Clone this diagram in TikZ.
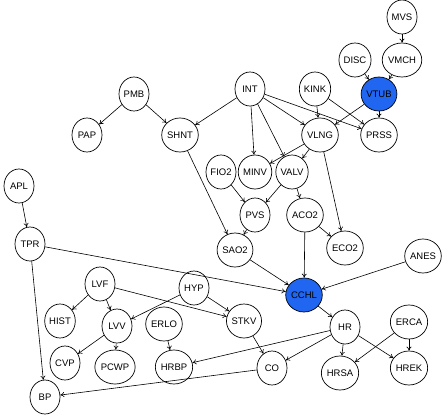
\documentclass[tikz,border=0pt]{standalone}
\usepackage{fontspec}
\setmainfont{Liberation Sans}
\usepackage{tikz}
\usetikzlibrary{arrows.meta, shapes.geometric}

\definecolor{evid}{RGB}{33,102,240}

\begin{document}
\begin{tikzpicture}[
  x=1pt, y=-1pt,
  var/.style={draw, ellipse, minimum width=30pt, minimum height=34pt, inner sep=0pt,
              line width=0.7pt, font=\fontsize{9.5}{10}\selectfont},
  obs/.style={var, fill=evid},
  arrow/.style={-{To[length=4pt, width=5pt]}, line width=0.6pt}
]
  \useasboundingbox (0,0) rectangle (443,415);

  %--- Ventilation ---
  \node[var] (mvs)  at (402, 17)  {MVS};
  \node[var] (vmch) at (402, 60)  {VMCH};
  \node[var] (disc) at (355, 60)  {DISC};
  \node[obs] (vtub) at (379, 94)  {VTUB};
  \node[var] (kink) at (315, 89)  {KINK};
  \node[var] (int)  at (250, 89)  {INT};
  \node[var] (pmb)  at (134, 94)  {PMB};
  \node[var] (pap)  at (87, 135)  {PAP};
  \node[var] (shnt) at (180, 135) {SHNT};
  \node[var] (vlng) at (320, 135) {VLNG};
  \node[var] (prss) at (379, 135) {PRSS};
  \node[var] (fio2) at (221, 172) {FIO2};
  \node[var] (minv) at (255, 172) {MINV};
  \node[var] (valv) at (292, 172) {VALV};
  \node[var] (pvs)  at (255, 215) {PVS};
  \node[var] (aco2) at (305, 215) {ACO2};
  \node[var] (sao2) at (235, 250) {SAO2};
  \node[var] (eco2) at (345, 248) {ECO2};

  %--- Circulation ---
  \node[var] (apl)  at (19, 186)  {APL};
  \node[var] (tpr)  at (30, 244)  {TPR};
  \node[var] (anes) at (423, 256) {ANES};
  \node[obs] (cchl) at (304, 295) {CCHL};
  \node[var] (lvf)  at (100, 284) {LVF};
  \node[var] (hyp)  at (194, 288) {HYP};
  \node[var] (hist) at (60, 321)  {HIST};
  \node[var] (lvv)  at (117, 326) {LVV};
  \node[var] (erlo) at (164, 324) {ERLO};
  \node[var] (stkv) at (244, 321) {STKV};
  \node[var] (hr)   at (345, 327) {HR};
  \node[var] (erca) at (409, 322) {ERCA};
  \node[var] (cvp)  at (65, 363)  {CVP};
  \node[var] (pcwp) at (115, 367) {PCWP};
  \node[var] (hrbp) at (174, 367) {HRBP};
  \node[var] (co)   at (272, 368) {CO};
  \node[var] (hrsa) at (340, 373) {HRSA};
  \node[var] (hrek) at (409, 368) {HREK};
  \node[var] (bp)   at (45, 397)  {BP};

  % Edges
  \draw[arrow] (mvs) -- (vmch);
  \draw[arrow] (disc) -- (vtub);
  \draw[arrow] (vmch) -- (vtub);
  \draw[arrow] (vtub) -- (prss);
  \draw[arrow] (vtub) -- (vlng);
  \draw[arrow] (kink) -- (vlng);
  \draw[arrow] (kink) -- (prss);
  \draw[arrow] (int) -- (shnt);
  \draw[arrow] (int) -- (minv);
  \draw[arrow] (int) -- (valv);
  \draw[arrow] (int) -- (vlng);
  \draw[arrow] (int) -- (prss);
  \draw[arrow] (pmb) -- (pap);
  \draw[arrow] (pmb) -- (shnt);
  \draw[arrow] (vlng) -- (minv);
  \draw[arrow] (vlng) -- (valv);
  \draw[arrow] (vlng) -- (eco2);
  \draw[arrow] (valv) -- (pvs);
  \draw[arrow] (valv) -- (aco2);
  \draw[arrow] (fio2) -- (pvs);
  \draw[arrow] (pvs) -- (sao2);
  \draw[arrow] (shnt) -- (sao2);
  \draw[arrow] (sao2) -- (cchl);
  \draw[arrow] (aco2) -- (cchl);
  \draw[arrow] (aco2) -- (eco2);
  \draw[arrow] (anes) -- (cchl);
  \draw[arrow] (tpr) -- (cchl);
  \draw[arrow] (apl) -- (tpr);
  \draw[arrow] (tpr) -- (bp);
  \draw[arrow] (cchl) -- (hr);
  \draw[arrow] (lvf) -- (hist);
  \draw[arrow] (lvf) -- (lvv);
  \draw[arrow] (lvf) -- (stkv);
  \draw[arrow] (hyp) -- (lvv);
  \draw[arrow] (hyp) -- (stkv);
  \draw[arrow] (lvv) -- (cvp);
  \draw[arrow] (lvv) -- (pcwp);
  \draw[arrow] (erlo) -- (hrbp);
  \draw[arrow] (stkv) -- (co);
  \draw[arrow] (hr) -- (co);
  \draw[arrow] (hr) -- (hrbp);
  \draw[arrow] (hr) -- (hrsa);
  \draw[arrow] (hr) -- (hrek);
  \draw[arrow] (erca) -- (hrsa);
  \draw[arrow] (erca) -- (hrek);
  \draw[arrow] (co) -- (bp);

\end{tikzpicture}
\end{document}
